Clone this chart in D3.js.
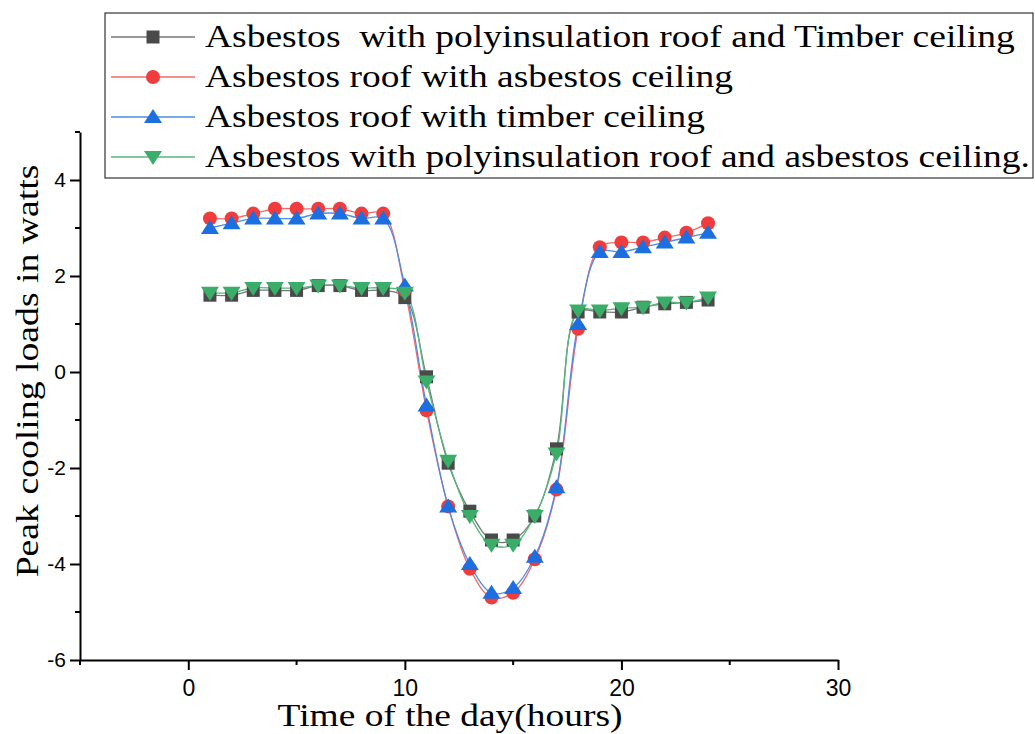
<!DOCTYPE html>
<html>
<head>
<meta charset="utf-8">
<script src="https://cdn.jsdelivr.net/npm/d3@7"></script>
<style>
  body { margin: 0; background: #fff; }
  svg { display: block; }
  .tick text { font-family: "Liberation Sans", Arial, sans-serif; fill: #000; }
  .ttl { font-family: "Liberation Serif", "Times New Roman", serif; fill: #000; white-space: pre; font-size: 31px; }
</style>
</head>
<body>
<div id="chart"></div>
<script>
// hours of the day
var hours = [1,2,3,4,5,6,7,8,9,10,11,12,13,14,15,16,17,18,19,20,21,22,23,24];

// peak cooling load (watts) per roof/ceiling combination
var polyTimber   = [1.6,1.6,1.7,1.7,1.7,1.8,1.8,1.7,1.7,1.55,-0.1,-1.9,-2.9,-3.5,-3.5,-3.0,-1.6,1.25,1.25,1.25,1.35,1.42,1.45,1.5];
var asbAsb       = [3.2,3.2,3.3,3.4,3.4,3.4,3.4,3.3,3.3,1.7,-0.8,-2.8,-4.1,-4.7,-4.6,-3.9,-2.45,0.9,2.6,2.7,2.7,2.8,2.9,3.1];
var asbTimber    = [3.0,3.1,3.2,3.2,3.2,3.3,3.3,3.2,3.2,1.8,-0.7,-2.8,-4.0,-4.6,-4.5,-3.85,-2.4,1.0,2.5,2.5,2.6,2.7,2.8,2.9];
var polyAsb      = [1.65,1.65,1.75,1.75,1.75,1.8,1.8,1.75,1.75,1.65,-0.2,-1.85,-3.0,-3.6,-3.6,-3.0,-1.7,1.28,1.28,1.33,1.35,1.45,1.45,1.55];

var seriesNames = [
    "Asbestos  with polyinsulation roof and Timber ceiling",
    "Asbestos roof with asbestos ceiling",
    "Asbestos roof with timber ceiling",
    "Asbestos with polyinsulation roof and asbestos ceiling."
];
var seriesVals = [polyTimber, asbAsb, asbTimber, polyAsb];
var markerColors = ["#4a4a4a", "#f03c3c", "#1c6fe0", "#3aad68"];
var lineColors = ["#777777", "#f26a6a", "#4c8ce6", "#55b97c"];
var shapes = ["square", "circle", "up", "down"];
// legend text widths (the original font is stretched sideways)
var legendWidths = [810, 528, 500, 825];

var xTicks = [0, 10, 20, 30];
var yTicks = [-6, -4, -2, 0, 2, 4];

var W = 1035, H = 734;
var margin = {left: 80, right: 197, top: 132, bottom: 74};

var svg = d3.select("#chart").append("svg")
    .attr("width", W)
    .attr("height", H);

var x = d3.scaleLinear().domain([-5, 30]).range([margin.left, W - margin.right]);
var y = d3.scaleLinear().domain([-6, 5]).range([H - margin.bottom, margin.top]);

function drawMarker(g, shape, color){
    if (shape == "square"){
	g.append("rect").attr("x", -6.5).attr("y", -6.5)
	    .attr("width", 13).attr("height", 13).attr("fill", color);
    } else if (shape == "circle"){
	g.append("circle").attr("r", 7).attr("fill", color);
    } else if (shape == "up"){
	g.append("polygon").attr("points", "0,-8 9,6 -9,6").attr("fill", color);
    } else {
	g.append("polygon").attr("points", "0,8 9,-6 -9,-6").attr("fill", color);
    }
}

// stretched text: write it, then squeeze/stretch sideways to a target width
function wideText(parent, tx, ty, rot, anchor, width, str){
    var g = parent.append("g")
	.attr("transform", "translate(" + tx + "," + ty + ")" + (rot ? " rotate(" + rot + ")" : ""));
    var t = g.append("text").classed("ttl", true)
	.attr("text-anchor", anchor)
	.text(str);
    var w = t.node().getComputedTextLength();
    t.attr("transform", "scale(" + (width / w) + ",1)");
    return g;
}

// axes
var plain = function(d){ return String(d); };
var xAxis = d3.axisBottom(x).tickValues(xTicks).tickSize(10).tickSizeOuter(0).tickFormat(plain);
var yAxis = d3.axisLeft(y).tickValues(yTicks).tickSize(10).tickSizeOuter(0).tickFormat(plain);

var gx = svg.append("g")
    .attr("transform", "translate(0," + y(-6) + ")")
    .call(xAxis);
gx.selectAll("text").attr("dy", "0.98em").style("font-size", "23px");
// minor x ticks
gx.selectAll(".minor").data([-5, 5, 15, 25]).enter()
    .append("line").classed("minor", true)
    .attr("x1", function(d){ return x(d); }).attr("x2", function(d){ return x(d); })
    .attr("y1", 0).attr("y2", 5).attr("stroke", "#000").attr("stroke-width", 2);

var gy = svg.append("g")
    .attr("transform", "translate(" + x(-5) + ",0)")
    .call(yAxis);
gy.selectAll("text").attr("dx", "-0.05em").style("font-size", "21px");
gy.selectAll(".minor").data([-5, -3, -1, 1, 3, 5]).enter()
    .append("line").classed("minor", true)
    .attr("y1", function(d){ return y(d); }).attr("y2", function(d){ return y(d); })
    .attr("x1", 0).attr("x2", -5).attr("stroke", "#000").attr("stroke-width", 2);

svg.selectAll(".domain, .tick line").attr("stroke", "#000").attr("stroke-width", 2);

// axis titles
wideText(svg, 450, 726, 0, "middle", 345, "Time of the day(hours)");
wideText(svg, 38, 371, -90, "middle", 413, "Peak cooling loads in watts");

// series lines then markers
var line = d3.line()
    .x(function(d, i){ return x(hours[i]); })
    .y(function(d){ return y(d); })
    .curve(d3.curveCatmullRom.alpha(0.5));

seriesVals.forEach(function(vals, k){
    svg.append("path")
	.datum(vals)
	.attr("d", line)
	.attr("fill", "none")
	.attr("stroke", lineColors[k])
	.attr("stroke-width", 1.3);
});

seriesVals.forEach(function(vals, k){
    var g = svg.append("g");
    vals.forEach(function(v, i){
	var m = g.append("g")
	    .attr("transform", "translate(" + x(hours[i]) + "," + y(v) + ")");
	drawMarker(m, shapes[k], markerColors[k]);
    });
});

// legend
var leg = svg.append("g");
leg.append("rect")
    .attr("x", 105).attr("y", 13)
    .attr("width", 928).attr("height", 165)
    .attr("fill", "#fff")
    .attr("stroke", "#333").attr("stroke-width", 1.2);

seriesNames.forEach(function(name, k){
    var cy = 37 + k * 40;
    leg.append("line")
	.attr("x1", 111).attr("x2", 195)
	.attr("y1", cy).attr("y2", cy)
	.attr("stroke", lineColors[k]).attr("stroke-width", 1.3);
    var m = leg.append("g").attr("transform", "translate(153," + cy + ")");
    drawMarker(m, shapes[k], markerColors[k]);
    wideText(leg, 205, cy + 10, 0, "start", legendWidths[k], name);
});
</script>
</body>
</html>
